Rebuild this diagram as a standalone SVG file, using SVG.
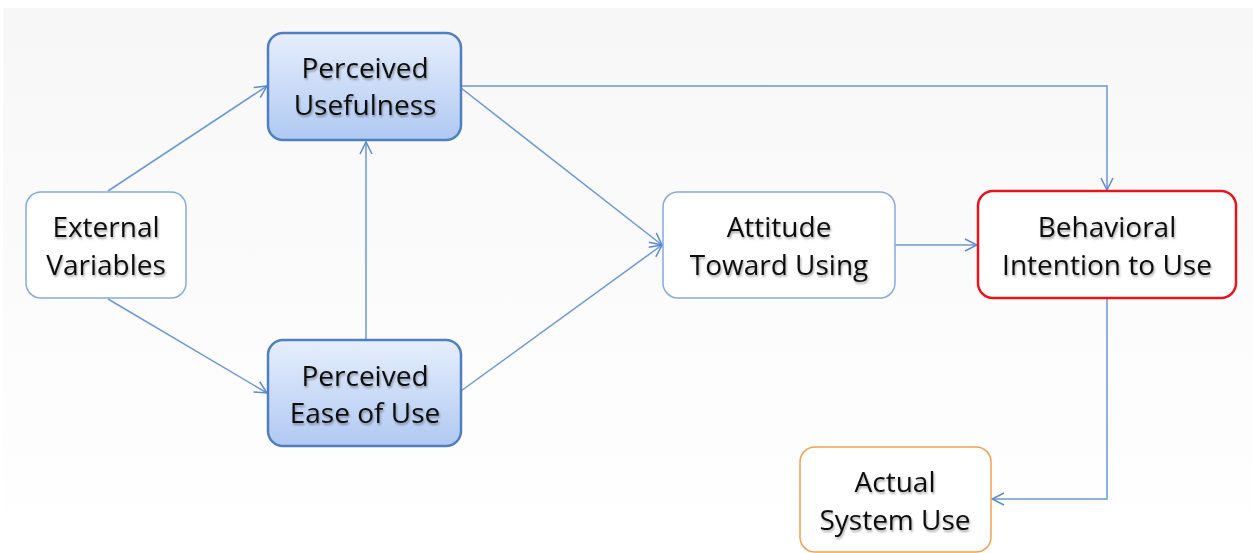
<svg xmlns="http://www.w3.org/2000/svg" width="1253" height="553" viewBox="0 0 1253 553">
<defs>
<linearGradient id="bg" x1="0" y1="0" x2="0" y2="1">
<stop offset="0" stop-color="#f7f7f7"/>
<stop offset="1" stop-color="#ffffff"/>
</linearGradient>
<linearGradient id="blue" x1="0" y1="0" x2="0" y2="1">
<stop offset="0" stop-color="#e6eefc"/>
<stop offset="1" stop-color="#b0c9f2"/>
</linearGradient>
<filter id="ts" x="-10%" y="-30%" width="120%" height="160%">
<feGaussianBlur in="SourceAlpha" stdDeviation="1.2"/>
<feOffset dx="1" dy="2" result="b"/>
<feComponentTransfer><feFuncA type="linear" slope="0.35"/></feComponentTransfer>
<feMerge><feMergeNode/><feMergeNode in="SourceGraphic"/></feMerge>
</filter>
<marker id="arr" viewBox="0 0 14 14" refX="13" refY="7" markerWidth="14" markerHeight="14" markerUnits="userSpaceOnUse" orient="auto">
<path d="M1,1 L13,7 L1,13" fill="none" stroke="#5b8bd0" stroke-width="1.5"/>
</marker>
</defs>
<style>
.plain{fill:#ffffff;stroke:#85abe0;stroke-width:1.5}
.key{fill:url(#blue);stroke:#4f7fc0;stroke-width:2.5}
.red{fill:#ffffff;stroke:#e8141c;stroke-width:2.5}
.orange{fill:#ffffff;stroke:#f5a04e;stroke-width:1.5}
text{font-family:"Open Sans","Liberation Sans",sans-serif;font-size:28px;fill:#111;text-anchor:middle;filter:url(#ts)}
.conn{fill:none;stroke:#6b98d6;stroke-width:1.5;marker-end:url(#arr)}
</style>
<rect x="3" y="8" width="1250" height="545" fill="url(#bg)"/>
<g id="connectors">
<line class="conn" x1="108" y1="191" x2="267" y2="86"/>
<line class="conn" x1="108" y1="299" x2="267" y2="393"/>
<line class="conn" x1="366" y1="339" x2="366" y2="142"/>
<line class="conn" x1="461" y1="88" x2="662" y2="245"/>
<line class="conn" x1="461" y1="391" x2="662" y2="245"/>
<polyline class="conn" points="461,86 1107,86 1107,190"/>
<line class="conn" x1="895" y1="245" x2="977" y2="245"/>
<polyline class="conn" points="1107,299 1107,499 992,499"/>
</g>
<g id="external-variables">
<rect class="plain" x="26" y="192" width="160" height="106" rx="15"/>
<text x="106" y="237">External</text>
<text x="106" y="275">Variables</text>
</g>
<g id="perceived-usefulness">
<rect class="key" x="268" y="33" width="193" height="107" rx="15"/>
<text x="365" y="78">Perceived</text>
<text x="365" y="115">Usefulness</text>
</g>
<g id="perceived-ease-of-use">
<rect class="key" x="268" y="340" width="193" height="106" rx="15"/>
<text x="365" y="386">Perceived</text>
<text x="365" y="423">Ease of Use</text>
</g>
<g id="attitude-toward-using">
<rect class="plain" x="663" y="192" width="232" height="106" rx="15"/>
<text x="779" y="237">Attitude</text>
<text x="779" y="275">Toward Using</text>
</g>
<g id="behavioral-intention">
<rect class="red" x="978" y="191" width="258" height="107" rx="15"/>
<text x="1107" y="237">Behavioral</text>
<text x="1107" y="275">Intention to Use</text>
</g>
<g id="actual-system-use">
<rect class="orange" x="800" y="447" width="191" height="105" rx="15"/>
<text x="895" y="492">Actual</text>
<text x="895" y="530">System Use</text>
</g>
</svg>
